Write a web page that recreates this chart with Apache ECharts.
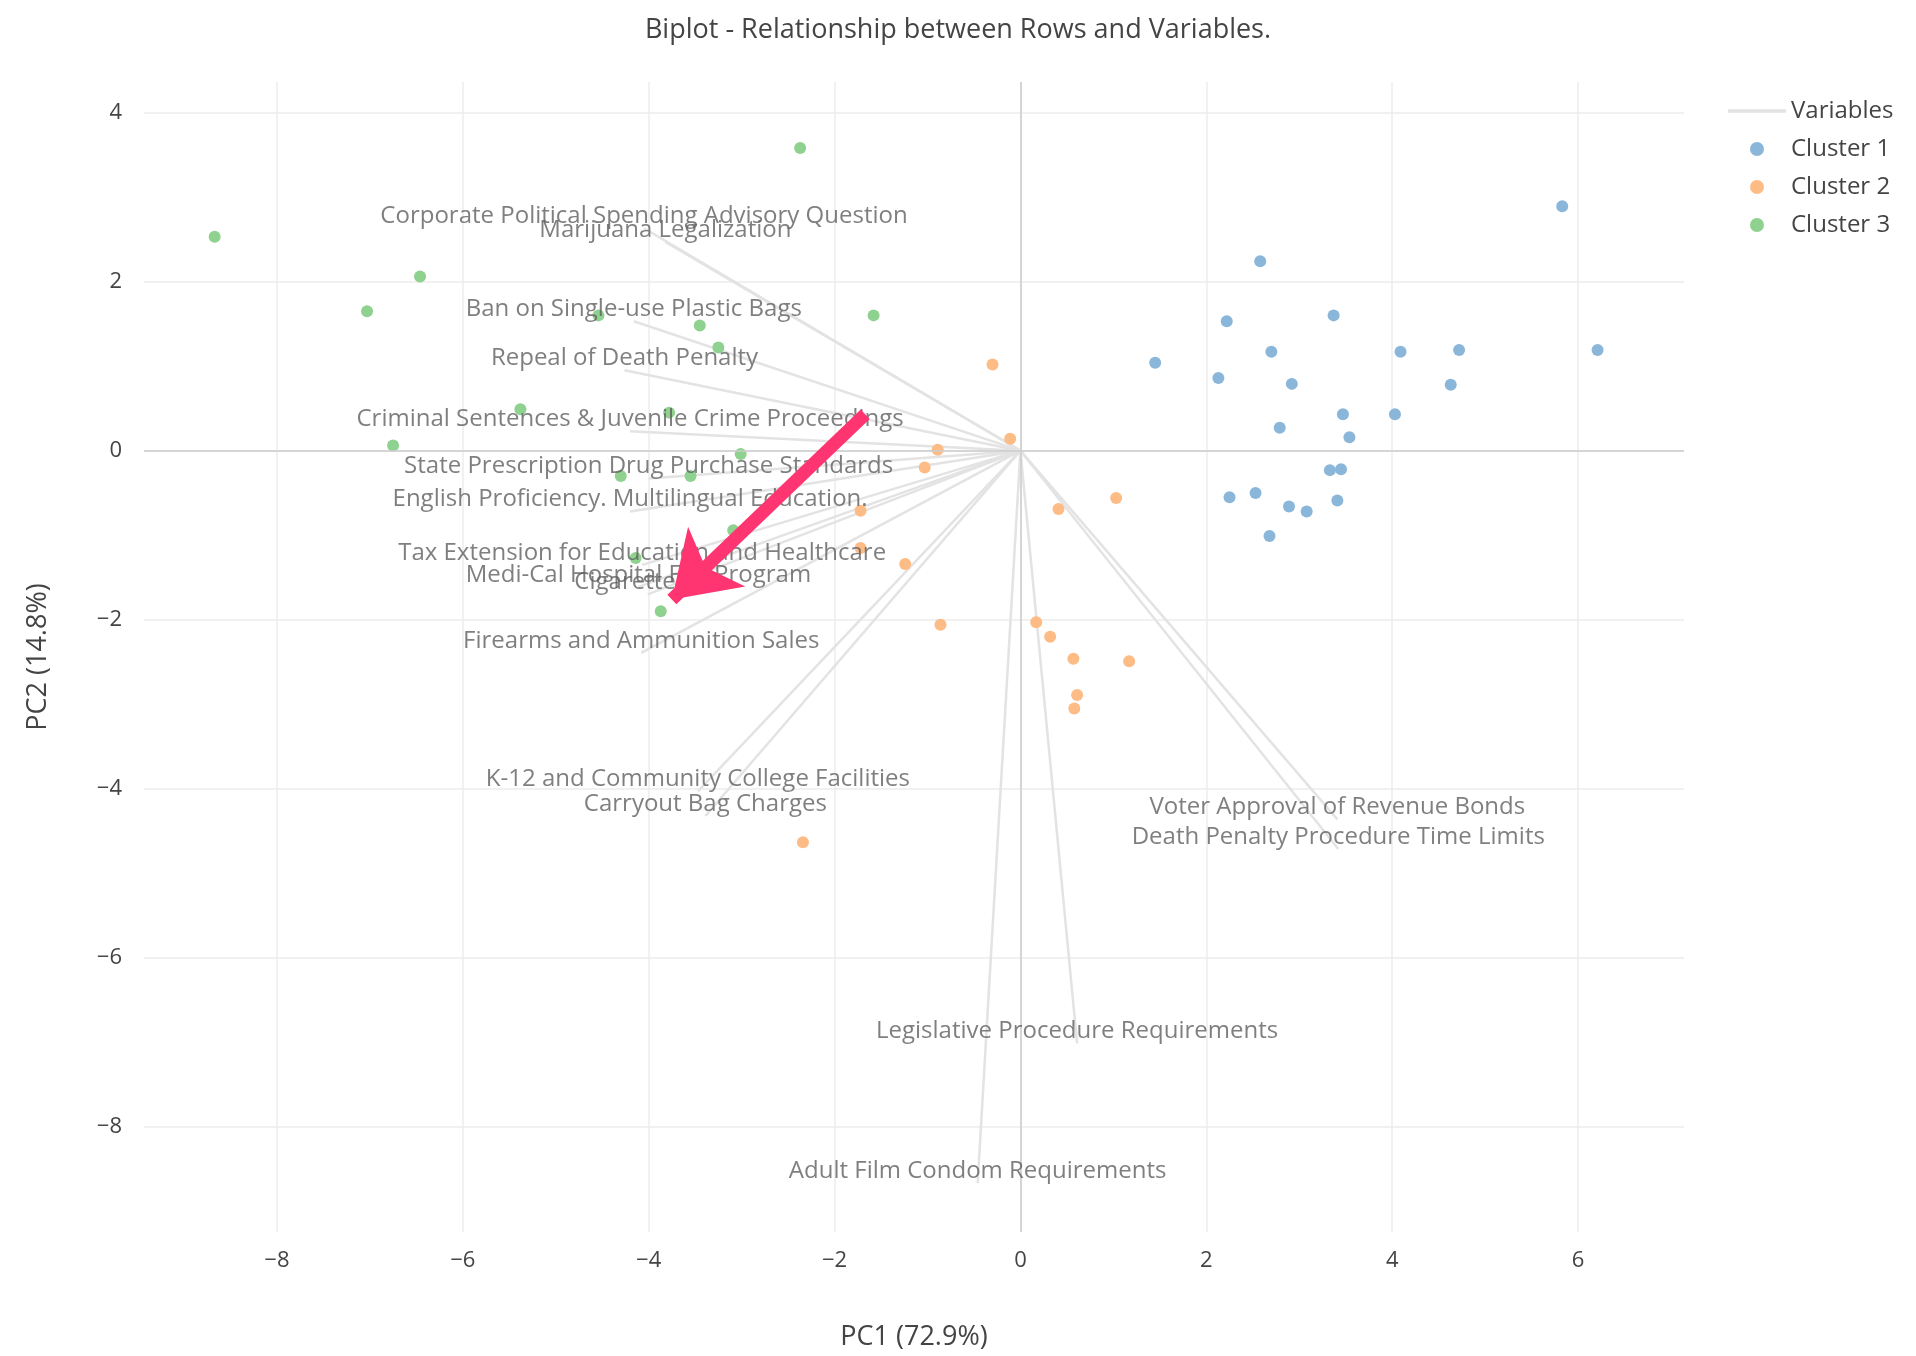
<!DOCTYPE html>
<html><head><meta charset="utf-8">
<script src="https://cdn.jsdelivr.net/npm/echarts@6/dist/echarts.min.js"></script>
<style>html,body{margin:0;padding:0;background:#fff}#c{width:1916px;height:1356px}</style>
</head><body><div id="c"></div>
<script>
const varNames = ["Corporate Political Spending Advisory Question","Marijuana Legalization","Ban on Single-use Plastic Bags","Repeal of Death Penalty","Criminal Sentences & Juvenile Crime Proceedings","State Prescription Drug Purchase Standards","English Proficiency. Multilingual Education.","Tax Extension for Education and Healthcare","Medi-Cal Hospital Fee Program","Cigarette Tax","Firearms and Ammunition Sales","K-12 and Community College Facilities","Carryout Bag Charges","Voter Approval of Revenue Bonds","Death Penalty Procedure Time Limits","Legislative Procedure Requirements","Adult Film Condom Requirements"];
const varX = [-4.05,-3.82,-4.16,-4.26,-4.20,-4.0,-4.20,-4.07,-4.11,-4.01,-4.08,-3.47,-3.39,3.41,3.42,0.61,-0.46];
const varY = [2.63,2.47,1.53,0.95,0.23,-0.33,-0.72,-1.35,-1.61,-1.70,-2.39,-4.03,-4.32,-4.36,-4.71,-7.01,-8.66];
const cluster1 = [[5.83,2.89],[2.58,2.24],[2.22,1.53],[3.37,1.60],[1.45,1.04],[2.70,1.17],[2.13,0.86],[2.92,0.79],[4.09,1.17],[4.72,1.19],[6.21,1.19],[4.63,0.78],[3.47,0.43],[4.03,0.43],[2.79,0.27],[3.54,0.16],[3.33,-0.23],[3.45,-0.22],[2.25,-0.55],[2.53,-0.50],[2.89,-0.66],[3.08,-0.72],[3.41,-0.59],[2.68,-1.01]];
const cluster2 = [[-0.30,1.02],[-0.11,0.14],[-0.89,0.01],[-1.03,-0.20],[0.41,-0.69],[1.03,-0.56],[-1.72,-0.71],[-1.72,-1.15],[-1.24,-1.34],[-0.86,-2.06],[0.17,-2.03],[0.32,-2.20],[0.57,-2.46],[1.17,-2.49],[0.61,-2.89],[0.58,-3.05],[-2.34,-4.63]];
const cluster3 = [[-8.67,2.53],[-6.46,2.06],[-7.03,1.65],[-2.37,3.58],[-1.58,1.60],[-4.54,1.60],[-3.45,1.48],[-3.25,1.22],[-5.38,0.49],[-3.78,0.45],[-6.75,0.06],[-3.01,-0.04],[-4.30,-0.30],[-3.55,-0.30],[-3.09,-0.94],[-4.14,-1.27],[-3.87,-1.90]];
const xTicks = [-8,-6,-4,-2,0,2,4,6];
const yTicks = [-8,-6,-4,-2,0,2,4];
const arrowFrom = [-1.67,0.43], arrowTo = [-3.75,-1.76];

const F = '"Open Sans", sans-serif';
const series = [];
varNames.forEach((n,i)=>{
  series.push({type:'line',name:'Variables',data:[[0,0],[varX[i],varY[i]]],symbol:'none',silent:true,
    lineStyle:{color:'#e3e3e3',width:2.5},itemStyle:{color:'#e3e3e3'},z:1});
});
series.push({type:'scatter',name:'labels',symbolSize:0,silent:true,z:5,
  data:varNames.map((n,i)=>({value:[varX[i],varY[i]],name:n})),
  label:{show:true,position:'top',distance:0,formatter:p=>p.name,color:'#5f5f5f',fontSize:24,fontFamily:F}});
const cols=['#8ab6da','#fdbb86','#8fd18f'];
[cluster1,cluster2,cluster3].forEach((d,i)=>{
  series.push({type:'scatter',name:'Cluster '+(i+1),data:d,symbolSize:12,itemStyle:{color:cols[i],opacity:1},z:3});
});
series.push({type:'lines',coordinateSystem:'cartesian2d',silent:true,z:10,
  symbol:['none','arrow'],symbolSize:[0,62],
  lineStyle:{color:'#ff3571',width:13,opacity:1},
  data:[{coords:[arrowFrom,arrowTo]}]});

const chart = echarts.init(document.getElementById('c'));
chart.setOption({
  animation:false,
  title:{text:'Biplot - Relationship between Rows and Variables.',left:'center',top:12,
    textStyle:{fontFamily:F,fontSize:27,fontWeight:'normal',color:'#444'}},
  legend:{orient:'vertical',left:1723,top:94,itemGap:14,itemWidth:58,itemHeight:14,
    data:[{name:'Variables',icon:'path://M0,0H1V0.06H0Z'},{name:'Cluster 1',icon:'circle'},{name:'Cluster 2',icon:'circle'},{name:'Cluster 3',icon:'circle'}],
    textStyle:{fontFamily:F,fontSize:24,color:'#444'}},
  grid:{left:144,right:232,top:82,bottom:103},
  xAxis:{type:'value',min:-9.43,max:7.14,name:'PC1 (72.9%)',nameLocation:'middle',nameGap:92,
    nameTextStyle:{fontFamily:F,fontSize:27,color:'#444'},
    axisLine:{show:false},axisTick:{show:false,customValues:xTicks},
    axisLabel:{customValues:xTicks,fontFamily:F,fontSize:22,color:'#444',margin:18,formatter:v=>String(v).replace('-','\u2212')},
    splitLine:{show:true,lineStyle:{color:'#ececec',width:1.5}}},
  yAxis:{type:'value',min:-9.24,max:4.36,name:'PC2 (14.8%)',nameLocation:'middle',nameGap:92,
    nameTextStyle:{fontFamily:F,fontSize:27,color:'#444'},
    axisLine:{show:false},axisTick:{show:false,customValues:yTicks},
    axisLabel:{customValues:yTicks,fontFamily:F,fontSize:22,color:'#444',margin:22,formatter:v=>String(v).replace('-','\u2212')},
    splitLine:{show:true,lineStyle:{color:'#ececec',width:1.5}}},
  series:series.concat([{type:'line',name:'zero',silent:true,symbol:'none',data:[],
    markLine:{silent:true,symbol:'none',label:{show:false},lineStyle:{color:'#cccccc',width:1.5,type:'solid'},
      data:[{xAxis:0},{yAxis:0}]},z:0}])
});
</script></body></html>
